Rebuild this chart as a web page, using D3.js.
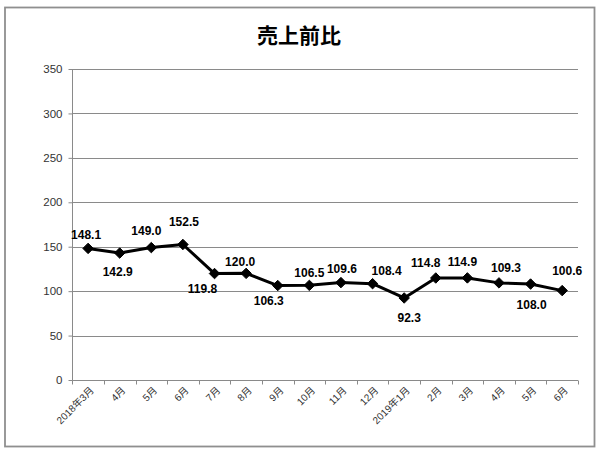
<!DOCTYPE html>
<html><head><meta charset="utf-8">
<script src="https://cdn.jsdelivr.net/npm/d3@7/dist/d3.min.js"></script>
<style>body{margin:0;background:#fff}svg{display:block}</style>
</head><body><svg id="c" width="601" height="453"></svg>
<script>
const title = "売上前比";
const categories = ["2018年3月","4月","5月","6月","7月","8月","9月","10月","11月","12月","2019年1月","2月","3月","4月","5月","6月"];
const values = [148.1,142.9,149.0,152.5,119.8,120.0,106.3,106.5,109.6,108.4,92.3,114.8,114.9,109.3,108.0,100.6];
const yTicks = [0,50,100,150,200,250,300,350];
// label nudges (dx, dy) in px relative to each point
const labelNudge = [[-2,-14],[-2,19],[-5,-17],[1,-23],[-12,15],[-6,-12],[-9,15],[0,-13],[1,-14],[14,-13],[5,20],[-10,-15],[-5,-16],[7,-15],[1,21],[5,-20]];

const svg = d3.select("#c");
const idx = d3.range(categories.length);
const x = d3.scaleBand().domain(idx).range([72.3, 578]).paddingInner(0).paddingOuter(0);
const y = d3.scaleLinear().domain([0,350]).range([380, 69]);
const font = "'Liberation Sans', 'Noto Sans CJK JP', sans-serif";
const gridC = "#8a8a8a";

svg.append("rect").attr("x",5).attr("y",7.5).attr("width",589.5).attr("height",439)
  .attr("fill","#fff").attr("stroke","#8f8f8f").attr("stroke-width",1.8);

svg.append("text").attr("x",299).attr("y",43).attr("text-anchor","middle")
  .attr("font-family","'Noto Sans CJK JP', sans-serif").attr("font-weight","bold").attr("font-size",21)
  .attr("fill","#000").text(title);

// gridlines
svg.append("g").selectAll("line").data(yTicks.filter(d=>d>0)).join("line")
  .attr("x1",72.3).attr("x2",578).attr("y1",d=>Math.round(y(d))+0.5).attr("y2",d=>Math.round(y(d))+0.5)
  .attr("stroke",gridC).attr("stroke-width",1);

// y axis
const ya = svg.append("g").attr("transform","translate(72.5,0)")
  .call(d3.axisLeft(y).tickValues(yTicks).tickSize(4).tickPadding(6).tickFormat(d3.format("d")));
ya.select(".domain").attr("stroke",gridC).attr("d","M0,69V380.5");
ya.selectAll(".tick line").attr("stroke",gridC);
ya.selectAll(".tick text").attr("font-family",font).attr("font-size",11.5).attr("fill","#333");

// x axis
const xa = svg.append("g").attr("transform","translate(0,380.5)")
  .call(d3.axisBottom(x).tickSize(0).tickFormat(""));
xa.select(".domain").attr("stroke",gridC).attr("d","M72.3,0H578");
const bounds = idx.map(i=>x(i)).concat([x(idx.length-1)+x.bandwidth()]);
xa.append("g").selectAll("line").data(bounds).join("line")
  .attr("x1",d=>Math.round(d)+0.5).attr("x2",d=>Math.round(d)+0.5).attr("y1",0).attr("y2",4)
  .attr("stroke",gridC);
xa.append("g").selectAll("text").data(idx).join("text")
  .attr("transform",i=>`translate(${x(i)+x.bandwidth()/2+4},8) rotate(-45)`)
  .attr("text-anchor","end").attr("dy","0.35em")
  .attr("font-family",font).attr("font-size",10).attr("fill","#333").text(i=>categories[i]);

// line
const cx = i => x(i) + x.bandwidth()/2;
const line = d3.line().x((d,i)=>cx(i)).y(d=>y(d));
svg.append("path").datum(values).attr("d",line).attr("fill","none")
  .attr("stroke","#000").attr("stroke-width",3).attr("stroke-linejoin","round");

// markers
const sym = d3.symbol().type(d3.symbolDiamond2).size(70);
svg.append("g").selectAll("path").data(values).join("path")
  .attr("transform",(d,i)=>`translate(${cx(i)},${y(d)})`)
  .attr("d",sym).attr("fill","#000").attr("stroke","#000").attr("stroke-width",1);

// labels
svg.append("g").selectAll("text").data(values).join("text")
  .attr("x",(d,i)=>cx(i)+labelNudge[i][0]).attr("y",(d,i)=>y(d)+labelNudge[i][1])
  .attr("dy","0.35em").attr("text-anchor","middle")
  .attr("font-family",font).attr("font-weight","bold").attr("font-size",12).attr("fill","#000")
  .text(d=>d.toFixed(1));
</script></body></html>
